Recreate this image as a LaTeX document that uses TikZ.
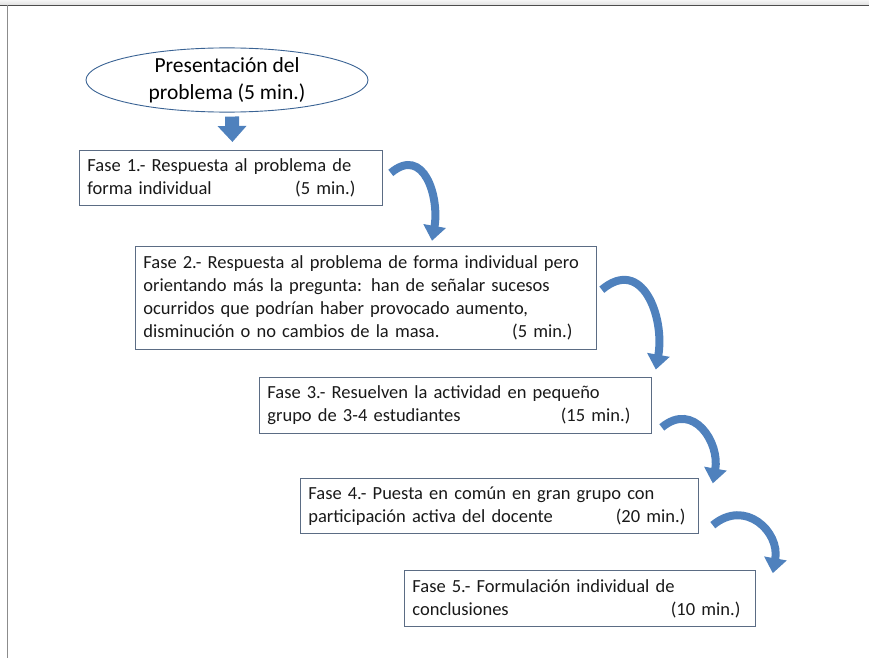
\documentclass[tikz,border=0pt]{standalone}
\usepackage{fontspec}
\setmainfont{Carlito}
\usetikzlibrary{positioning, shapes.geometric, arrows.meta}

\definecolor{arrowblue}{HTML}{4F81BD}
\definecolor{arrowedge}{HTML}{3A6394}
\definecolor{boxedge}{HTML}{5B6C84}

\tikzset{
    phase/.style={draw=boxedge, line width=0.8pt, rectangle, align=left, anchor=north west,
        inner xsep=8pt, inner ysep=0pt, font=\fontsize{18.5}{23}\selectfont, text=black!90},
    bigarrow/.style={draw=arrowblue, line width=8pt,
        -{Triangle[width=22pt, length=15pt, fill=arrowblue]}},
    downarrow/.style={draw=arrowblue, line width=14pt,
        -{Triangle[width=28pt, length=16pt, fill=arrowblue]}}
}

\begin{document}
\begin{tikzpicture}[x=1pt, y=1pt]
        \useasboundingbox (0,0) rectangle (869,-658);
        \shade[top color=black!4, bottom color=black!12] (0,0) rectangle (869,-5);
        \draw[black!70, line width=1pt] (869,-5.5) -- (0,-5.5);
        \draw[black!45, line width=0.8pt] (7,-5.5) -- (7,-658);

        \node[ellipse, draw=arrowedge, line width=0.9pt, minimum width=282pt, minimum height=56pt,
            inner sep=0pt, align=center, font=\fontsize{21.5}{27}\selectfont](pres) at (227,-80)
            {Presentación del\\problema (5 min.)};

        \node[phase, text width=287pt, minimum height=55pt](f1) at (79,-150)
            {Fase 1.- Respuesta al problema de\\
             forma individual\hfill(5 min.)\hspace*{19pt}};
        \node[phase, below right=40pt and 56pt of f1.south west, anchor=north west,
            text width=445pt, minimum height=103pt](f2)
            {Fase 2.- Respuesta al problema de forma individual pero\\
             orientando más la pregunta: han de señalar sucesos\\
             ocurridos que podrían haber provocado aumento,\\
             disminución o no cambios de la masa.\hfill(5 min.)\hspace*{16pt}};
        \node[phase, below right=27pt and 124pt of f2.south west, anchor=north west,
            text width=376pt, minimum height=56pt](f3)
            {Fase 3.- Resuelven la actividad en pequeño\\
             grupo de 3-4 estudiantes\hfill(15 min.)\hspace*{13pt}};
        \node[phase, below right=45pt and 41pt of f3.south west, anchor=north west,
            text width=382pt, minimum height=55pt](f4)
            {Fase 4.- Puesta en común en gran grupo con\\
             participación activa del docente\hfill(20 min.)\hspace*{5pt}};
        \node[phase, below right=36pt and 104pt of f4.south west, anchor=north west,
            text width=335pt, minimum height=56pt](f5)
            {Fase 5.- Formulación individual de\\
             conclusiones\hfill(10 min.)\hspace*{7pt}};

        \draw[downarrow] ([shift={(5,-4)}]pres.south) -- ([shift={(1.5,8)}]f1.north);

        \draw[bigarrow] ([shift={(8,5)}]f1.east) to[out=40, in=80, looseness=1.4] ([shift={(297,5)}]f2.north west);
        \draw[bigarrow] ([shift={(5,8)}]f2.east) to[out=40, in=80, looseness=1.4] ([shift={(4,7)}]f3.north east);
        \draw[bigarrow] ([shift={(10,6)}]f3.south east) to[out=40, in=80, looseness=1.4] ([shift={(14,-5)}]f4.north east);
        \draw[bigarrow] ([shift={(14,9)}]f4.south east) to[out=40, in=80, looseness=1.4] ([shift={(17,-3)}]f5.north east);

    \end{tikzpicture}
\end{document}
